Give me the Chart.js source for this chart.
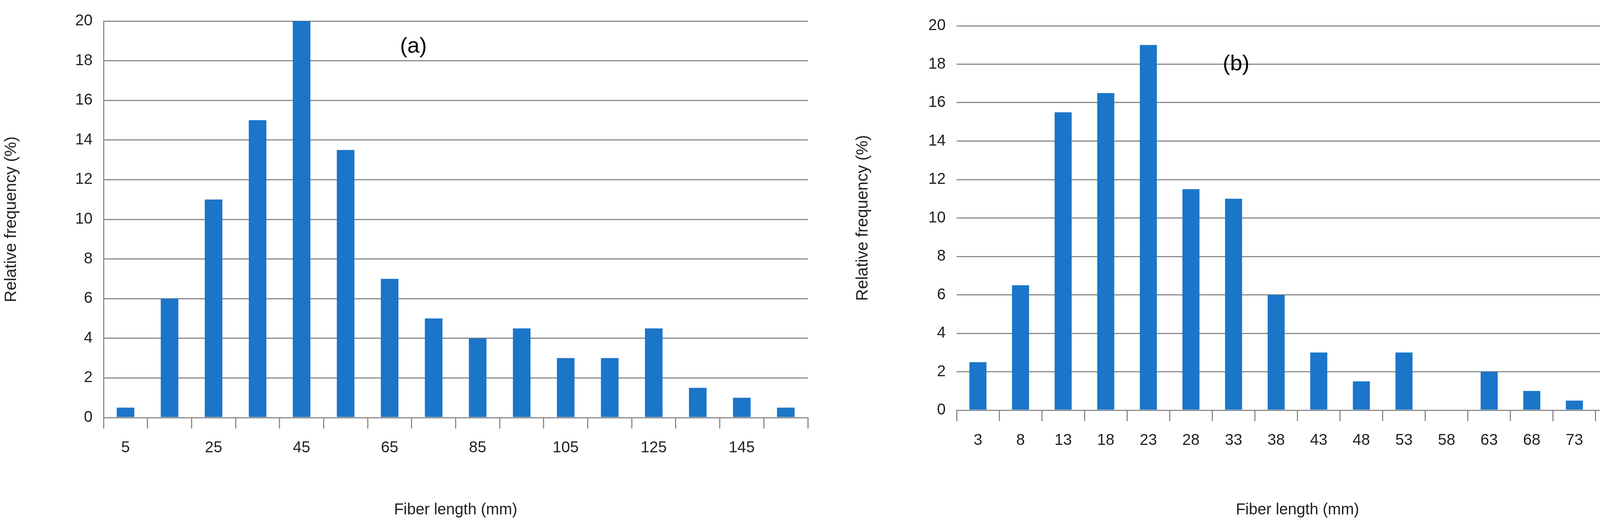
<!DOCTYPE html>
<html>
<head>
<meta charset="utf-8">
<script src="https://cdn.jsdelivr.net/npm/chart.js@4/dist/chart.umd.min.js"></script>
<style>
  html, body { margin: 0; padding: 0; background: #fff; overflow: hidden; }
  canvas { position: absolute; top: 0; }
</style>
</head>
<body>
<canvas id="chartA" width="2080" height="1335" style="left:0;width:2080px;height:1335px"></canvas>
<canvas id="chartB" width="2030" height="1335" style="left:2180px;width:2030px;height:1335px"></canvas>
<script>
  // Panel (a)
  const lengthsA = ['5', '15', '25', '35', '45', '55', '65', '75', '85', '95', '105', '115', '125', '135', '145', '155'];
  const freqA = [0.5, 6, 11, 15, 20, 13.5, 7, 5, 4, 4.5, 3, 3, 4.5, 1.5, 1, 0.5];
  // Panel (b)
  const lengthsB = ['3', '8', '13', '18', '23', '28', '33', '38', '43', '48', '53', '58', '63', '68', '73', '78'];
  const freqB = [2.5, 6.5, 15.5, 16.5, 19, 11.5, 11, 6, 3, 1.5, 3, 0, 2, 1, 0.5, 0.5];
  const yTicks = [0, 2, 4, 6, 8, 10, 12, 14, 16, 18, 20];

  const FONT = "'Liberation Sans', 'Open Sans', sans-serif";
  const BLUE = '#1b75c9';
  const GRID = '#8c8c8c';

  function panelLabel(text, fx, fy) {
    return {
      id: 'panelLabel',
      afterDraw(chart) {
        const a = chart.chartArea, ctx = chart.ctx;
        ctx.save();
        ctx.font = '56px ' + FONT;
        ctx.fillStyle = '#000';
        ctx.textAlign = 'center';
        ctx.textBaseline = 'middle';
        ctx.fillText(text, a.left + (a.right - a.left) * fx, a.top + (a.bottom - a.top) * fy);
        ctx.restore();
      }
    };
  }

  function makeChart(id, labels, data, opt) {
    return new Chart(document.getElementById(id), {
      type: 'bar',
      data: { labels, datasets: [{ data, backgroundColor: BLUE, barPercentage: 0.4, categoryPercentage: 1 }] },
      options: {
        responsive: false,
        devicePixelRatio: 1,
        animation: false,
        layout: { padding: { top: opt.top, right: opt.right } },
        plugins: { legend: { display: false }, tooltip: { enabled: false } },
        scales: {
          x: {
            offset: true,
            grid: { offset: true, drawOnChartArea: false, color: GRID, lineWidth: 3, tickLength: opt.tickLen, tickColor: GRID },
            border: { color: GRID, width: 3 },
            ticks: {
              autoSkip: false, maxRotation: 0, color: '#222', padding: 26,
              font: { family: FONT, size: 40 },
              callback: (v, i) => (opt.everyOther && i % 2 === 1) ? '' : labels[i]
            },
            title: { display: true, text: 'Fiber length (mm)', color: '#222', font: { family: FONT, size: 40 }, padding: { top: opt.titleGap } },
            afterFit: (s) => { s.height = opt.xHeight; }
          },
          y: {
            min: 0, max: 20,
            afterBuildTicks: (s) => { s.ticks = yTicks.map(v => ({ value: v })); },
            grid: { color: GRID, lineWidth: 3, drawTicks: false },
            border: { display: opt.yBorder, color: GRID, width: 3 },
            ticks: { color: '#222', padding: 28, font: { family: FONT, size: 40 } },
            title: { display: true, text: 'Relative frequency (%)', color: '#222', font: { family: FONT, size: 42 }, padding: { bottom: 30 } },
            afterFit: (s) => { s.width = opt.yWidth; }
          }
        }
      },
      plugins: [panelLabel(opt.label, opt.lx, opt.ly)]
    });
  }

  makeChart('chartA', lengthsA, freqA, {
    top: 54, right: 12, tickLen: 28, everyOther: true, titleGap: 60,
    xHeight: 265, yWidth: 265, yBorder: true, label: '(a)', lx: 0.44, ly: 0.065
  });
  makeChart('chartB', lengthsB, freqB, {
    top: 66, right: 16, tickLen: 28, everyOther: false, titleGap: 70,
    xHeight: 284, yWidth: 269, yBorder: false, label: '(b)', lx: 0.41, ly: 0.1
  });
</script>
</body>
</html>
